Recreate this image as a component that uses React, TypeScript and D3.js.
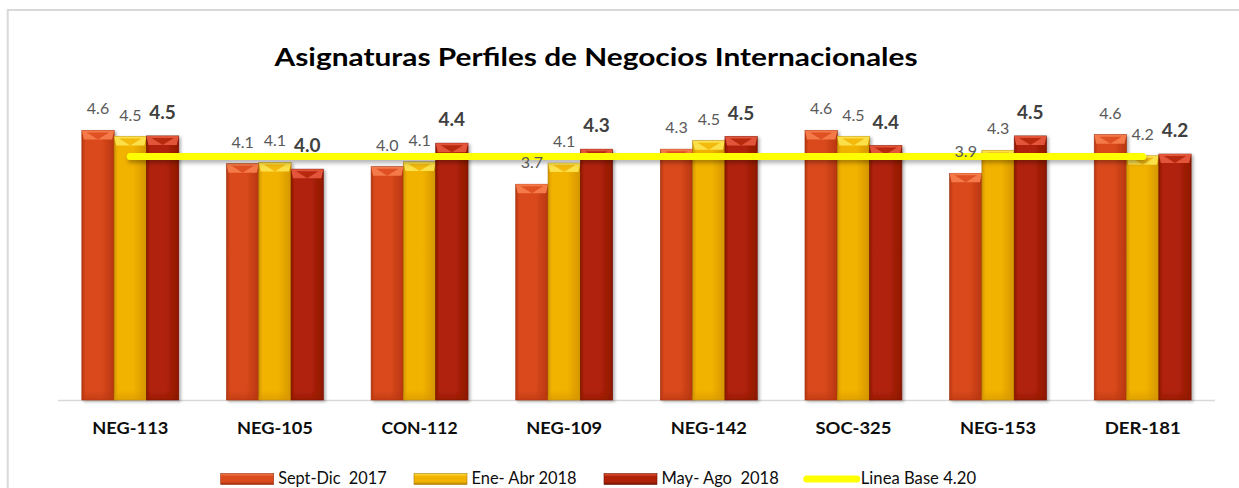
import React from 'react';
import * as d3 from 'd3';

const categories = ['NEG-113', 'NEG-105', 'CON-112', 'NEG-109', 'NEG-142', 'SOC-325', 'NEG-153', 'DER-181'];
const seriesNames = ['Sept-Dic  2017', 'Ene- Abr 2018', 'May- Ago  2018'];
const sept2017 = [4.63, 4.08, 4.03, 3.74, 4.32, 4.63, 3.92, 4.56];
const eneAbr2018 = [4.53, 4.1, 4.11, 4.09, 4.46, 4.53, 4.3, 4.21];
const mayAgo2018 = [4.54, 3.99, 4.42, 4.32, 4.53, 4.38, 4.54, 4.24];
const baseValue = 4.2;
const baseLabel = 'Linea Base 4.20';
const title = 'Asignaturas Perfiles de Negocios Internacionales';

const W = 1239;
const H = 488;
const FONT = 'Lato, "Open Sans", sans-serif';

const seriesValues = [sept2017, eneAbr2018, mayAgo2018];
const seriesStyle = [
  { light: '#F47A48', mid: '#DA4A1C', dark: '#B8360F', edge: '#9A2E0C' },
  { light: '#FBE04A', mid: '#F2B200', dark: '#D49600', edge: '#B07D00' },
  { light: '#E2553A', mid: '#B02208', dark: '#8E1804', edge: '#701203' },
];
const legendItems = [
  { x: 220.7, textW: 108.4 },
  { x: 414, textW: 105 },
  { x: 604, textW: 117.3 },
  { x: 803.3, textW: 115.3 },
];

export default function App() {
  const x0 = d3.scaleBand<string>().domain(categories).range([58, 1215]).paddingInner(0.33).paddingOuter(0.165);
  const x1 = d3.scaleBand<number>().domain([0, 1, 2]).range([0, x0.bandwidth()]).padding(0);
  const y = d3.scaleLinear().domain([0.17, 4.55]).range([400, 135.3]);
  const y0 = y(0.17);
  const bw = x1.bandwidth();

  const linePath = d3.line<string>()
    .x((c) => (x0(c) as number) + x0.bandwidth() / 2)
    .y(() => y(baseValue))(categories) as string;

  const bars: React.ReactNode[] = [];
  const labels: React.ReactNode[] = [];
  seriesValues.forEach((vals, si) => {
    const st = seriesStyle[si];
    vals.forEach((v, ci) => {
      const bx = (x0(categories[ci]) as number) + (x1(si) as number);
      const top = y(v);
      const h = y0 - top;
      const cx = bx + bw / 2;
      const bev = 9;
      bars.push(
        <g key={`b${si}-${ci}`} filter="url(#barShadow)">
          <rect x={bx} y={top} width={bw} height={h} fill={`url(#body${si})`} stroke={st.edge} strokeWidth={0.6} />
          <polygon
            points={`${bx},${top} ${bx + bw},${top} ${bx + bw - 2},${top + bev} ${bx + 2},${top + bev}`}
            fill={st.light}
          />
          <polygon
            points={`${bx + 5},${top + 2} ${bx + bw - 5},${top + 2} ${cx},${top + bev}`}
            fill={st.mid}
            opacity={0.85}
          />
          <rect x={bx} y={y0 - 10} width={bw} height={10} fill={`url(#bottom${si})`} />
        </g>
      );
      const bold = si === 2;
      labels.push(
        <text
          key={`l${si}-${ci}`}
          x={cx}
          y={top - (bold ? 17 : 16)}
          textAnchor="middle"
          fontFamily={FONT}
          fontSize={bold ? 19 : 16}
          fontWeight={bold ? 700 : 400}
          fill={bold ? '#404040' : '#595959'}
        >
          {v.toFixed(1)}
        </text>
      );
    });
  });

  return (
    <svg width={W} height={H} style={{ position: 'absolute', left: 0, top: 0, background: '#fff' }}>
      <defs>
        {seriesStyle.map((st, i) => (
          <linearGradient key={`g${i}`} id={`body${i}`} x1="0" x2="1" y1="0" y2="0">
            <stop offset="0" stopColor={st.dark} />
            <stop offset="0.12" stopColor={st.mid} />
            <stop offset="0.6" stopColor={st.mid} />
            <stop offset="1" stopColor={st.dark} />
          </linearGradient>
        ))}
        {seriesStyle.map((st, i) => (
          <linearGradient key={`bt${i}`} id={`bottom${i}`} x1="0" x2="0" y1="0" y2="1">
            <stop offset="0" stopColor={st.dark} stopOpacity={0} />
            <stop offset="1" stopColor={st.dark} stopOpacity={0.6} />
          </linearGradient>
        ))}
        {seriesStyle.map((st, i) => (
          <linearGradient key={`lg${i}`} id={`leg${i}`} x1="0" x2="0" y1="0" y2="1">
            <stop offset="0" stopColor={st.light} />
            <stop offset="0.3" stopColor={st.mid} />
            <stop offset="0.75" stopColor={st.mid} />
            <stop offset="1" stopColor={st.edge} />
          </linearGradient>
        ))}
        <filter id="barShadow" x="-20%" y="-10%" width="150%" height="130%">
          <feDropShadow dx="2" dy="1.5" stdDeviation="1.6" floodColor="#000" floodOpacity="0.3" />
        </filter>
        <filter id="lineShadow" filterUnits="userSpaceOnUse" x={0} y={0} width={W} height={H}>
          <feDropShadow dx="1" dy="3" stdDeviation="2" floodColor="#000" floodOpacity="0.3" />
        </filter>
      </defs>

      {/* frame */}
      <line x1={7.7} x2={7.7} y1={9} y2={H} stroke="#d9d9d9" strokeWidth={2} />
      <line x1={7} x2={W} y1={10} y2={10} stroke="#d9d9d9" strokeWidth={2} />

      {/* title */}
      <text
        x={596}
        y={66}
        textAnchor="middle"
        fontFamily={FONT}
        fontSize={25}
        fontWeight={700}
        fill="#000"
        textLength={643}
        lengthAdjust="spacingAndGlyphs"
      >
        {title}
      </text>

      {/* axis line */}
      <line x1={58} x2={1215} y1={400.5} y2={400.5} stroke="#d9d9d9" strokeWidth={1.5} />

      {bars}

      <path
        d={linePath}
        fill="none"
        stroke="#FFFF00"
        strokeWidth={7}
        strokeLinecap="round"
        filter="url(#lineShadow)"
      />

      {labels}

      {/* category labels */}
      {categories.map((c) => (
        <text
          key={c}
          x={(x0(c) as number) + x0.bandwidth() / 2}
          y={434.3}
          textAnchor="middle"
          fontFamily={FONT}
          fontSize={17}
          fontWeight={700}
          fill="#0d0d0d"
          textLength={76}
          lengthAdjust="spacingAndGlyphs"
        >
          {c}
        </text>
      ))}

      {/* legend */}
      {legendItems.map((it, i) => (
        <g key={`leg${i}`}>
          {i < 3 ? (
            <rect x={it.x} y={473.5} width={53} height={11} fill={`url(#leg${i})`} stroke={seriesStyle[i].edge} strokeWidth={0.6} />
          ) : (
            <line x1={it.x + 3.5} x2={it.x + 53.5} y1={479} y2={479} stroke="#FFFF00" strokeWidth={7} strokeLinecap="round" />
          )}
          <text
            x={it.x + 57.5}
            y={484.3}
            fontFamily={FONT}
            fontSize={17}
            fill="#0d0d0d"
            style={{ whiteSpace: 'pre' }}
            textLength={it.textW}
            lengthAdjust="spacingAndGlyphs"
          >
            {i < 3 ? seriesNames[i] : baseLabel}
          </text>
        </g>
      ))}
    </svg>
  );
}
